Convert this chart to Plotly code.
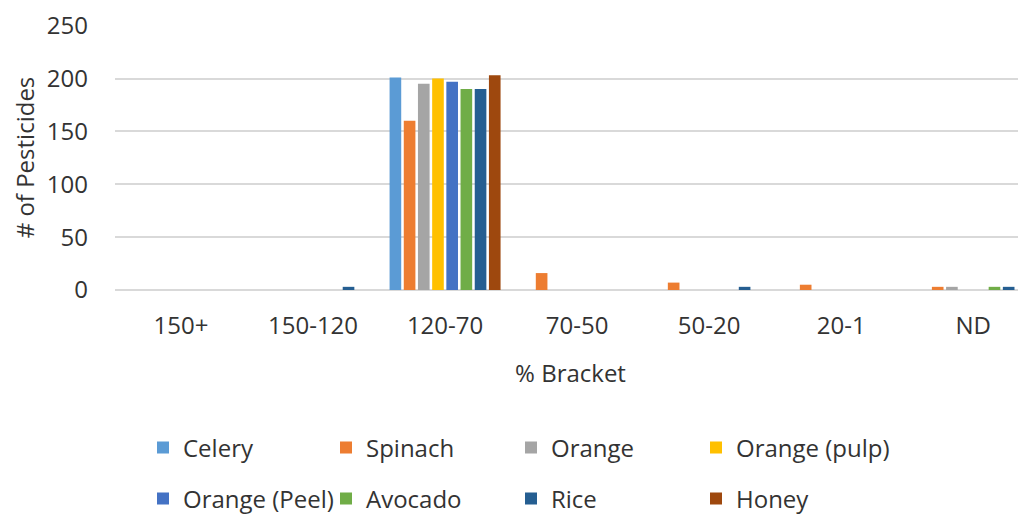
import plotly.graph_objects as go

categories = ["150+", "150-120", "120-70", "70-50", "50-20", "20-1", "ND"]

celery = [0, 0, 201, 0, 0, 0, 0]
spinach = [0, 0, 160, 16, 7, 5, 3]
orange = [0, 0, 195, 0, 0, 0, 3]
orange_pulp = [0, 0, 200, 0, 0, 0, 0]
orange_peel = [0, 0, 197, 0, 0, 0, 0]
avocado = [0, 0, 190, 0, 0, 0, 3]
rice = [0, 3, 190, 0, 3, 0, 3]
honey = [0, 0, 203, 0, 0, 0, 0]

series_names = ["Celery", "Spinach", "Orange", "Orange (pulp)",
                "Orange (Peel)", "Avocado", "Rice", "Honey"]
series_values = [celery, spinach, orange, orange_pulp,
                 orange_peel, avocado, rice, honey]
series_colors = ["#5B9BD5", "#ED7D31", "#A5A5A5", "#FFC000",
                 "#4472C4", "#70AD47", "#255E91", "#9E480E"]

FONT = "Open Sans"
TXT = "#333333"
FS = 24

# page body has an 8px margin, so the figure is 8px smaller than the window
W, H = 1018, 508
OFF = 8
PL, PR, PT, PB = 115 - OFF, 1026 - OFF, 25 - OFF, 290 - OFF   # plot area in figure px
PW, PH = PR - PL, PB - PT

col_x = [143, 326, 511, 696]   # legend box left (window px)
row_y = [448, 499]             # legend row centre (window px)

fig = go.Figure()
layout_legends = {}
for i, (name, vals, color) in enumerate(zip(series_names, series_values, series_colors)):
    key = "legend" if i == 0 else f"legend{i + 1}"
    fig.add_trace(go.Bar(
        x=categories, y=vals, name=name, marker_color=color,
        marker_line_width=0, legend=key,
    ))
    cx = col_x[i % 4] - OFF
    cy = row_y[i // 4] - OFF
    layout_legends[key] = dict(
        orientation="h",
        x=(cx - PL) / PW, y=(PB - cy) / PH,
        xanchor="left", yanchor="middle",
        font=dict(family=FONT, size=FS, color=TXT),
        bgcolor="rgba(0,0,0,0)",
        itemclick=False, itemdoubleclick=False,
    )

fig.update_layout(
    width=W, height=H,
    margin=dict(l=PL, r=W - PR, t=PT, b=H - PB, autoexpand=False),
    paper_bgcolor="white", plot_bgcolor="white",
    barmode="group", bargap=0.14, bargroupgap=0.18,
    font=dict(family=FONT, size=FS, color=TXT),
    showlegend=True,
    xaxis=dict(
        type="category", range=[-0.5, 6.4], showgrid=False, showline=False, ticks="",
        automargin=False, ticklabelstandoff=19,
        tickfont=dict(family=FONT, size=FS, color=TXT),
        title=dict(text="% Bracket", font=dict(family=FONT, size=FS, color=TXT), standoff=25),
        fixedrange=True,
    ),
    yaxis=dict(
        range=[0, 250.6], dtick=50, showgrid=True, gridcolor="#d9d9d9", gridwidth=1.5,
        zeroline=True, zerolinecolor="#d9d9d9", zerolinewidth=1.5,
        showline=False, ticks="", ticklabelstandoff=26, automargin=False,
        tickfont=dict(family=FONT, size=FS, color=TXT),
        title=dict(text="# of Pesticides", font=dict(family=FONT, size=FS, color=TXT), standoff=7),
        fixedrange=True,
    ),
    **layout_legends,
)

fig.write_html("out.html", config={"displayModeBar": False})
